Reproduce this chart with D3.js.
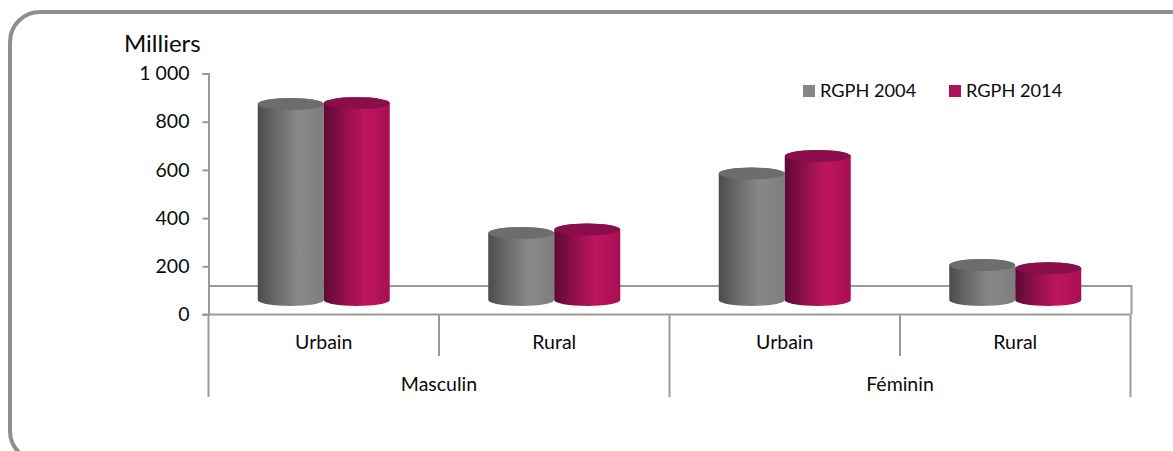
<!DOCTYPE html>
<html lang="fr">
<head>
<meta charset="utf-8">
<script src="https://cdn.jsdelivr.net/npm/d3@7/dist/d3.min.js"></script>
<style>
html,body{margin:0;padding:0;background:#fff;overflow:hidden}
svg{display:block}
text{font-family:Lato,"Open Sans",sans-serif;fill:#0a0a0a}
</style>
</head>
<body>
<svg id="chart" width="1173" height="451"></svg>
<script>
const categories = ["Urbain", "Rural", "Urbain", "Rural"];
const groups = ["Masculin", "Féminin"];
const seriesNames = ["RGPH 2004", "RGPH 2014"];
const rgph2004 = [873, 338, 585, 205];
const rgph2014 = [877, 353, 658, 192];
const yTicks = [0, 200, 400, 600, 800, 1000];

const svg = d3.select("#chart");
const axisColor = "#9a9a9a";
const left = 208.5, right = 1130.5, y0 = 314.5, yTop = 73.5;
const depth = 14.5, rx = 33, ry = 6;

const x = d3.scaleBand().domain(d3.range(categories.length)).range([left, right]);
const xInner = d3.scaleBand().domain(seriesNames).range([-rx * 2, rx * 2]);
const y = d3.scaleLinear().domain([0, 1000]).range([y0, yTop]);

const palette = [
  {stops: ["#4c4c4c", "#6c6c6c", "#888888", "#7e7e7e"], top: "#6d6d6d", key: "#868686"},
  {stops: ["#5c0a34", "#8f0f4c", "#be1560", "#a90f55"], top: "#8a0e4c", key: "#b0125a"}
];

const defs = svg.append("defs");
palette.forEach((p, i) => {
  const g = defs.append("linearGradient").attr("id", "cyl" + i);
  [0, .3, .62, 1].forEach((o, k) => g.append("stop").attr("offset", o).attr("stop-color", p.stops[k]));
});

// outer frame (runs past the right and bottom edges)
svg.append("rect").attr("x", 10).attr("y", 12).attr("width", 1230).attr("height", 449).attr("rx", 30)
  .attr("fill", "none").attr("stroke", "#8f8f8f").attr("stroke-width", 4);

// chart floor
svg.append("path")
  .attr("d", `M${left},${y0 - 28.5}H${right + 1}V${y0}`)
  .attr("fill", "none").attr("stroke", axisColor).attr("stroke-width", 2);

// value axis
const yAxis = d3.axisLeft(y).tickValues(yTicks).tickSize(6).tickPadding(13)
  .tickFormat(d => d3.format(",")(d).replace(",", " "));
const yg = svg.append("g").attr("transform", `translate(${left},0)`).call(yAxis);
yg.selectAll(".domain").attr("stroke", axisColor).attr("stroke-width", 2);
yg.selectAll(".tick line").attr("stroke", axisColor).attr("stroke-width", 2);
yg.selectAll("text").attr("font-size", 19.5).style("font-family", 'Lato,"Open Sans",sans-serif').attr("fill", "#0a0a0a");

// category axis
svg.append("line").attr("x1", left - 6).attr("x2", right).attr("y1", y0).attr("y2", y0)
  .attr("stroke", axisColor).attr("stroke-width", 2);
d3.range(categories.length + 1).forEach(i => {
  const sx = i < categories.length ? x(i) : right;
  svg.append("line").attr("x1", sx).attr("x2", sx).attr("y1", y0)
    .attr("y2", i % 2 === 0 ? 397 : 356).attr("stroke", axisColor).attr("stroke-width", 2);
});
categories.forEach((c, i) => {
  svg.append("text").attr("x", x(i) + x.bandwidth() / 2).attr("y", 349)
    .attr("text-anchor", "middle").attr("font-size", 19.5).text(c);
});
groups.forEach((g, i) => {
  svg.append("text").attr("x", x(i * 2) + x.bandwidth()).attr("y", 391)
    .attr("text-anchor", "middle").attr("font-size", 19.5).text(g);
});

// cylinders
[rgph2004, rgph2014].forEach((vals, s) => {
  const sg = svg.append("g");
  vals.forEach((v, i) => {
    const cx = x(i) + x.bandwidth() / 2 + xInner(seriesNames[s]) + rx;
    const top = y(v), base = y(0) - depth;
    sg.append("path")
      .attr("d", `M${cx - rx},${top}V${base}A${rx},${ry} 0 0 0 ${cx + rx},${base}V${top}A${rx},${ry} 0 0 0 ${cx - rx},${top}Z`)
      .attr("fill", `url(#cyl${s})`);
    sg.append("ellipse").attr("cx", cx).attr("cy", top).attr("rx", rx).attr("ry", ry)
      .attr("fill", palette[s].top);
  });
});

// unit label
svg.append("text").attr("x", 124).attr("y", 52).attr("font-size", 24).text("Milliers");

// legend
const legendX = [803, 949];
seriesNames.forEach((n, i) => {
  svg.append("rect").attr("x", legendX[i]).attr("y", 85).attr("width", 12).attr("height", 12)
    .attr("fill", palette[i].key);
  svg.append("text").attr("x", legendX[i] + 17).attr("y", 97).attr("font-size", 18.2).text(n);
});
</script>
</body>
</html>
